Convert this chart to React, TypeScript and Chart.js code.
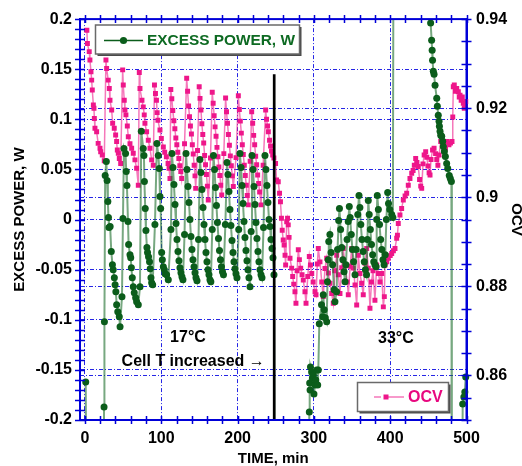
import React, { useEffect, useRef } from 'react';
import { Chart, registerables } from 'chart.js';

Chart.register(...registerables);

// ---------------- DATA ----------------
// EXCESS POWER, W  : [time (min), power (W)]  (values beyond the axis range run off the chart)
const excessPowerPoints: [number, number][] = [
  [1, -0.162], [2.5, -0.4], [24, -0.4], [25, -0.187], [25.5, -0.102], [26.5, 0.044], [28, 0.058], [29, 0.039], [30, 0.018], [30.8, 0.002], [31.5, -0.008], [33, -0.007], [34.5, -0.032], [36, -0.045], [37, -0.05], [38.5, -0.058], [39.5, -0.065], [40.5, -0.072], [41.5, -0.085], [43, -0.092], [45, -0.097], [46, -0.107],
  [48.5, -0.077], [49.8, 0.001], [51.1, 0.071], [53.2, 0.066], [54.1, 0.048], [55, 0.034], [56.4, -0.002], [57.2, -0.025], [59, -0.035], [60, -0.038], [60.8, -0.048], [62, -0.058], [63.3, -0.067], [64.6, -0.073], [66.4, -0.078], [67.7, -0.082], [69.9, -0.085],
  [72.1, -0.067], [73.8, 0.088], [76.4, 0.071], [77.3, 0.064], [77.9, 0.038], [79, 0.011], [79.9, -0.011], [81.2, -0.028], [82, -0.033], [83.3, -0.037], [84.6, -0.042], [85.5, -0.049], [86.5, -0.058], [87.4, -0.063], [88.7, -0.065],
  [91.7, -0.005], [94.3, 0.076], [96.1, 0.064], [97.4, 0.051], [98.3, 0.023], [99.2, 0.011], [100.5, -0.033], [101.4, -0.04], [102.7, -0.047], [104, -0.05], [105, -0.054], [107, -0.055], [109.2, -0.06],
  [112.7, -0.01], [114, 0.066], [115.3, 0.052], [116.6, 0.035], [118, 0.015], [119.3, -0.004], [120.6, -0.02], [121.9, -0.032], [123.2, -0.041], [124.5, -0.048], [125.8, -0.053], [127.1, -0.057], [128.4, -0.06],
  [130.5, -0.015], [132.4, 0.066], [133.7, 0.05], [135, 0.033], [136.3, 0.017], [137.6, 0], [138.9, -0.017], [140.2, -0.03], [141.5, -0.04], [142.9, -0.047], [144.2, -0.053], [145.5, -0.058], [146.8, -0.061],
  [148.8, -0.02], [150.7, 0.06], [152, 0.047], [153.3, 0.03], [154.7, 0.012], [156, -0.005], [157.3, -0.02], [158.6, -0.033], [159.9, -0.042], [161.2, -0.05], [162.5, -0.055], [163.8, -0.06], [165, -0.062],
  [166.8, -0.01], [168.4, 0.064], [169.8, 0.05], [171, 0.032], [172.3, 0.014], [173.6, -0.003], [175, -0.019], [176.3, -0.031], [177.6, -0.04], [178.9, -0.047], [180.2, -0.052], [181.5, -0.055],
  [184, -0.005], [186.1, 0.057], [187.4, 0.045], [188.7, 0.028], [190, 0.01], [191.3, -0.006], [192.7, -0.021], [194, -0.033], [195.3, -0.042], [196.6, -0.049], [197.9, -0.054], [199.2, -0.058],
  [201.5, -0.01], [203.1, 0.066], [204.5, 0.052], [205.8, 0.034], [207.1, 0.016], [208.4, -0.002], [209.7, -0.018], [211, -0.031], [212.3, -0.041], [213.6, -0.05], [214.9, -0.058], [216.3, -0.067],
  [217.8, -0.012], [218.9, 0.064], [220.2, 0.05], [221.5, 0.033], [222.8, 0.015], [224.1, -0.003], [225.4, -0.019], [226.7, -0.032], [228, -0.042], [229.4, -0.05], [230.7, -0.055], [232, -0.058],
  [234, -0.008], [235.9, 0.064], [237.2, 0.05], [238.5, 0.034], [239.8, 0.017], [241.2, 0], [242.5, -0.007], [243.8, -0.02], [245.1, -0.029], [246.4, -0.038], [247.7, -0.055],
  [249, -0.4], [292.5, -0.4], [294, -0.192], [294.5, -0.163], [295, -0.17], [295.5, -0.147], [297, -0.152], [298, -0.158], [299.2, -0.155], [300.1, -0.174], [301.4, -0.165], [302.5, -0.16], [303.7, -0.15], [305, -0.165], [305.8, -0.15], [307.1, -0.104],
  [310, -0.085], [311.5, -0.097], [312.3, -0.075], [313.5, -0.09], [315, -0.098], [316.8, -0.102], [317.8, -0.062], [318.8, -0.04], [319.5, -0.022], [321, -0.015], [322.5, -0.033], [324.5, -0.045], [326.5, -0.07], [327.6, -0.082], [329.8, -0.072], [331, -0.03], [332.5, -0.001], [333.5, 0.011],
  [335, -0.01], [336.5, -0.028], [338, -0.04], [339.5, -0.052], [340.8, -0.062], [342, -0.045], [343.5, -0.02], [345, -0.002], [346.4, 0.013], [347.5, 0.002], [349, -0.015], [350.5, -0.03], [352, -0.042], [353.9, -0.055], [355.5, -0.03], [357.5, 0.005], [359.1, 0.024],
  [360.3, 0.012], [361.5, -0.005], [363, -0.02], [364.5, -0.032], [366, -0.042], [367.5, -0.05], [369, -0.055], [370.2, -0.02], [371.3, 0.019], [372.5, 0.005], [374, -0.01], [375.5, -0.025], [377, -0.035], [378.5, -0.042], [380, -0.045], [381.5, -0.047], [382.3, 0], [383.1, 0.024],
  [384.5, 0.01], [386, -0.005], [387.5, -0.02], [389, -0.03], [390.5, -0.04], [392, -0.045], [393.5, -0.035], [395, 0], [396.7, 0.027], [397.8, 0.016], [399.5, 0.01], [402, 0.005], [403.5, 0.002], [404.5, 0.35],
  [452.5, 0.35], [453, 0.196], [454.3, 0.179], [455, 0.169], [455.5, 0.159], [456.5, 0.148], [457.5, 0.145], [458.8, 0.134], [461, 0.121], [461.8, 0.113], [463, 0.104], [464, 0.098], [464.5, 0.093], [465.3, 0.088], [466.2, 0.084], [467.5, 0.083], [468.8, 0.078], [469.6, 0.073], [471, 0.068], [472.3, 0.063], [474, 0.056], [475.4, 0.051], [477.4, 0.044], [478.8, 0.041], [480.2, 0.038],
  [480.8, -0.4], [494, -0.4], [495, -0.184], [496.5, -0.177], [497.8, -0.172], [499, -0.157],
];

// OCV : [time (min), volts]
const ocvPoints: [number, number][] = [
  [2.5, 0.9375], [3.2, 0.9345], [5.6, 0.9327], [6.5, 0.9308], [7.9, 0.9282], [8.8, 0.9263], [9.6, 0.9241], [11, 0.9207], [11.8, 0.92], [12.3, 0.9177], [13.1, 0.9155], [15.3, 0.9147], [17.3, 0.9121], [19.7, 0.911], [20.6, 0.9102], [22.7, 0.9095], [25.3, 0.9082],
  [27.5, 0.9308], [28.4, 0.9289], [30.5, 0.9263], [31.9, 0.9244], [32.8, 0.9218], [35, 0.9196], [36.3, 0.9166], [38.4, 0.9155], [40.2, 0.914], [41.5, 0.9125], [42.4, 0.9106], [43.7, 0.9099], [45, 0.9087], [46.8, 0.9076],
  [49.4, 0.9286], [50.2, 0.9252], [51.5, 0.9218], [52.4, 0.9196], [53.7, 0.9185], [55.5, 0.916], [56.8, 0.9136], [59, 0.912], [61.2, 0.911], [63.3, 0.9099], [65.5, 0.9084], [67.7, 0.9065], [69.9, 0.9027],
  [71.2, 0.928], [72.1, 0.9244], [74.7, 0.9218], [76.4, 0.9203], [77.7, 0.9185], [78.6, 0.9166], [80.8, 0.9147], [83, 0.9128], [85.2, 0.911], [87.4, 0.9084], [89.5, 0.9072],
  [91.1, 0.9252], [92.4, 0.9233], [93.7, 0.9218], [94.6, 0.919], [95.6, 0.9173], [98.3, 0.9151], [100.1, 0.9132], [102.7, 0.9113], [104.5, 0.9101], [106.7, 0.9091], [108.9, 0.9076], [110.2, 0.9065], [111.4, 0.9042],
  [112.5, 0.9242], [113.8, 0.9221], [115.1, 0.9195], [116.5, 0.9172], [117.8, 0.9154], [119.1, 0.9133], [120.4, 0.9118], [121.7, 0.9101], [123, 0.9087], [124.3, 0.9071], [125.6, 0.9058], [126.7, 0.9042],
  [130.5, 0.912], [133.3, 0.9267], [134.5, 0.9238], [135.8, 0.9205], [137, 0.9181], [138.2, 0.916], [139.5, 0.9142], [140.7, 0.9118], [141.9, 0.9097], [143.1, 0.9072], [144.2, 0.9048], [145.1, 0.902],
  [147.5, 0.9105], [149.7, 0.9248], [150.8, 0.9222], [152, 0.9196], [153.2, 0.9165], [154.4, 0.9141], [155.6, 0.9122], [156.8, 0.9094], [158, 0.9073], [159.2, 0.9051], [160.4, 0.9025], [161.6, 0.8994],
  [164.5, 0.9088], [166.8, 0.9236], [168, 0.9211], [169.3, 0.9183], [170.5, 0.9158], [171.8, 0.9137], [173, 0.9112], [174.3, 0.9091], [175.5, 0.9068], [176.8, 0.9049], [178, 0.9027], [179.2, 0.9005],
  [182, 0.9098], [184.3, 0.9223], [185.5, 0.9192], [186.8, 0.9166], [188, 0.9141], [189.3, 0.9117], [190.5, 0.9093], [191.8, 0.9071], [193.1, 0.9048], [194.4, 0.9024],
  [198, 0.9089], [201, 0.9228], [202.3, 0.9197], [203.6, 0.9171], [204.9, 0.9144], [206.2, 0.9118], [207.5, 0.9096], [208.8, 0.9072], [210.1, 0.9049], [211.4, 0.9027], [212.7, 0.9004], [214, 0.8983],
  [216.5, 0.9081], [218.5, 0.9192], [219.8, 0.9166], [221.1, 0.9139], [222.4, 0.9118], [223.7, 0.9092], [225, 0.9073], [226.3, 0.905], [227.6, 0.9031], [228.9, 0.9012], [230.7, 0.8983],
  [233.5, 0.9072], [236.8, 0.9196], [238, 0.9175], [239.3, 0.916], [240.3, 0.9147], [241.9, 0.9128], [243.2, 0.9115], [244.5, 0.9104], [246, 0.9095], [247.6, 0.9088], [249.8, 0.9076], [251.1, 0.9039], [253.3, 0.9035], [255, 0.9009], [256.2, 0.899], [257.5, 0.8953],
  [258.5, 0.8926], [259.8, 0.8904], [261, 0.8893], [262.2, 0.887], [263, 0.8848], [264.4, 0.8945], [265.5, 0.8953], [266.4, 0.8938], [267.5, 0.891], [268.7, 0.8863], [270.9, 0.8841], [272.2, 0.8822], [273.6, 0.8805], [275.2, 0.8788], [276.5, 0.8762],
  [278, 0.8835], [279.6, 0.8882], [281, 0.886], [282.7, 0.8841], [284.5, 0.8826], [286.1, 0.8814], [288.3, 0.8788], [289.7, 0.8762], [292, 0.8822], [294, 0.8867], [295.5, 0.8848], [297.2, 0.8829], [299, 0.881], [301.5, 0.8788], [302.8, 0.8781],
  [304.5, 0.885], [305.8, 0.8885], [308, 0.8855], [310.3, 0.881], [312.3, 0.8777], [314.5, 0.884], [316.8, 0.8863], [319, 0.883], [321.1, 0.8807], [323.3, 0.8784], [325.4, 0.8762], [327.5, 0.8835], [329.9, 0.887], [332, 0.8826], [334.2, 0.8784],
  [336.5, 0.8842], [338.5, 0.8885], [340.8, 0.8848], [343.8, 0.881], [345.1, 0.8781], [347.5, 0.8845], [349.5, 0.8885], [351.6, 0.8841], [353.9, 0.8803], [356.1, 0.8758], [358.2, 0.887], [360.4, 0.8829], [362.6, 0.8807], [364.7, 0.8781],
  [367, 0.8852], [369.2, 0.8885], [371.3, 0.8841], [373.5, 0.8751], [375.5, 0.881], [377.5, 0.8835], [380, 0.8769], [382.3, 0.8848], [384.5, 0.8829], [386.6, 0.881], [388.9, 0.8829], [391, 0.8754], [392.3, 0.8777], [393.2, 0.8848],
  [395.5, 0.8855], [397.5, 0.8863], [400, 0.8869], [402, 0.8874], [404.2, 0.888], [406.3, 0.8885], [408.5, 0.8908], [409.5, 0.8915], [410.6, 0.8941], [412.8, 0.896],
  [415, 0.8975], [417.2, 0.8994], [419.5, 0.9003], [421.6, 0.9009], [423.7, 0.9027], [425.9, 0.9042], [428.2, 0.9054], [430, 0.906], [431.6, 0.9072], [433.4, 0.9087], [435, 0.9078], [436.8, 0.9069], [438.5, 0.904], [440, 0.9025], [441.3, 0.902],
  [443, 0.9075], [444.5, 0.9095], [446.5, 0.9102], [448, 0.909], [449.5, 0.907], [451, 0.9055], [452.2, 0.905], [453.5, 0.9085], [455.5, 0.9106], [457.5, 0.911], [459.5, 0.9098], [461, 0.9085], [462.5, 0.9072], [464, 0.9095], [466.2, 0.9125],
  [468.5, 0.9118], [470.5, 0.9121], [472.5, 0.911], [474.6, 0.9125], [477, 0.9118], [479, 0.9122], [481, 0.9125], [482, 0.918], [482.7, 0.9248], [484, 0.9252], [485.5, 0.9238], [487.2, 0.9244], [489.3, 0.9237], [490.5, 0.9225], [491.5, 0.9229],
  [493, 0.9218], [494.5, 0.9225], [495.8, 0.9211], [497.1, 0.92], [498, 0.9207], [499, 0.9215],
];

// vertical marker: cell temperature increased
const cellTIncreaseTime = 248;
const cellTLineTop = 0.145;
const cellTLineBottom = -0.2;

// tick labels
const timeTicks = [0, 100, 200, 300, 400, 500];
const powerTicks = [-0.2, -0.15, -0.1, -0.05, 0, 0.05, 0.1, 0.15, 0.2];
const ocvTicks = [0.86, 0.88, 0.9, 0.92, 0.94];

// annotations [text, time, power, align]
const notes: [string, number, number, string][] = [
  ['17°C', 135, -0.118, 'center'],
  ['Cell T increased →', 48, -0.142, 'left'],
  ['33°C', 407.5, -0.119, 'center'],
];

// ---------------- STYLE ----------------
const FONT = "'Liberation Sans', Arial, Helvetica, sans-serif";
const AXIS = '#0000d8';
const GRID = 'rgba(0,0,225,0.85)';
const GREEN = '#0b5d1b';
const GREEN_LINE = 'rgba(35,115,50,0.62)';
const GREEN_TEXT = '#0d6a22';
const PINK = '#ee168a';
const PINK_LINE = 'rgba(238,30,140,0.6)';
const PINK_TEXT = '#e8087f';

const decorPlugin = {
  id: 'decor',
  afterDraw(chart: any) {
    const { ctx, chartArea: a, scales } = chart;
    const xs = scales.x, ys = scales.y, y1 = scales.y1;
    ctx.save();
    // frame
    ctx.strokeStyle = AXIS;
    ctx.lineWidth = 2;
    ctx.strokeRect(a.left, a.top, a.right - a.left, a.bottom - a.top);
    // tick marks crossing the frame
    ctx.lineWidth = 1.5;
    ctx.beginPath();
    for (let v = 0; v <= 500; v += 20) {
      const px = Math.round(xs.getPixelForValue(v)) + 0.5;
      ctx.moveTo(px, a.bottom - 4); ctx.lineTo(px, a.bottom + 4);
      ctx.moveTo(px, a.top - 4); ctx.lineTo(px, a.top + 4);
    }
    for (let i = -20; i <= 20; i++) {
      const py = Math.round(ys.getPixelForValue(i / 100)) + 0.5;
      ctx.moveTo(a.left - 5, py); ctx.lineTo(a.left + 5, py);
    }
    for (let i = 170; i <= 188; i++) {
      const py = Math.round(y1.getPixelForValue(i / 200)) + 0.5;
      ctx.moveTo(a.right - 5, py); ctx.lineTo(a.right + 5, py);
    }
    ctx.stroke();

    // annotations
    ctx.fillStyle = '#000';
    ctx.font = `bold 16px ${FONT}`;
    ctx.textBaseline = 'middle';
    for (const [t, x, y, al] of notes) {
      ctx.textAlign = al as CanvasTextAlign;
      ctx.fillText(t, xs.getPixelForValue(x), ys.getPixelForValue(y));
    }

    // legend boxes
    const box = (x: number, y: number, w: number, h: number) => {
      ctx.fillStyle = '#4a4a4a';
      ctx.fillRect(x + 2, y + 2, w, h);
      ctx.fillStyle = '#fff';
      ctx.fillRect(x, y, w, h);
      ctx.strokeStyle = '#6a6a6a';
      ctx.lineWidth = 1.5;
      ctx.strokeRect(x, y, w, h);
    };
    // EXCESS POWER legend
    box(95.5, 25, 204, 29);
    ctx.strokeStyle = GREEN;
    ctx.lineWidth = 1.5;
    ctx.beginPath(); ctx.moveTo(104, 40.5); ctx.lineTo(143, 40.5); ctx.stroke();
    ctx.fillStyle = GREEN;
    ctx.beginPath(); ctx.arc(123.5, 40.5, 3.6, 0, Math.PI * 2); ctx.fill();
    ctx.fillStyle = GREEN_TEXT;
    ctx.textAlign = 'left';
    ctx.font = `bold 15.4px ${FONT}`;
    ctx.fillText('EXCESS POWER, W', 147, 41);
    // OCV legend
    box(357.5, 382.5, 91, 29);
    ctx.strokeStyle = PINK_LINE;
    ctx.lineWidth = 1.5;
    ctx.beginPath();
    ctx.moveTo(374, 397); ctx.lineTo(381, 397);
    ctx.moveTo(388, 397); ctx.lineTo(404, 397);
    ctx.stroke();
    ctx.fillStyle = PINK;
    ctx.fillRect(383.5, 394.5, 5, 5);
    ctx.fillStyle = PINK_TEXT;
    ctx.font = `bold 16px ${FONT}`;
    ctx.fillText('OCV', 408, 397.5);
    ctx.restore();
  },
};

const tickFont = { family: FONT, size: 16, weight: 'bold' as const };
const titleFont = { family: FONT, size: 15, weight: 'bold' as const, lineHeight: 1 };

export default function App() {
  const ref = useRef<HTMLCanvasElement>(null);
  useEffect(() => {
    if (!ref.current) return;
    const chart = new Chart(ref.current, {
      type: 'line',
      data: {
        datasets: [
          {
            label: 'Cell T increased',
            data: [
              { x: cellTIncreaseTime, y: cellTLineTop },
              { x: cellTIncreaseTime, y: cellTLineBottom },
            ],
            yAxisID: 'y',
            borderColor: '#000',
            borderWidth: 2.7,
            pointRadius: 0,
            clip: 0,
          } as any,
          {
            label: 'EXCESS POWER, W',
            data: excessPowerPoints.map(([x, y]) => ({ x, y })),
            yAxisID: 'y',
            borderColor: GREEN_LINE,
            borderWidth: 2,
            pointRadius: 3.5,
            pointStyle: 'circle',
            pointBackgroundColor: GREEN,
            pointBorderWidth: 0,
            tension: 0,
            clip: { left: 0, top: 0, right: 6, bottom: 0 },
          } as any,
          {
            label: 'OCV',
            data: ocvPoints.map(([x, y]) => ({ x, y })),
            yAxisID: 'y1',
            borderColor: PINK_LINE,
            borderWidth: 1.5,
            pointRadius: 3.5,
            pointStyle: 'rect',
            pointBackgroundColor: PINK,
            pointBorderWidth: 0,
            tension: 0,
            clip: { left: 0, top: 0, right: 6, bottom: 0 },
          } as any,
        ],
      },
      options: {
        responsive: false,
        animation: false,
        events: [],
        layout: { padding: { top: 19, left: 0, right: 0, bottom: 0 } },
        plugins: { legend: { display: false }, tooltip: { enabled: false } },
        scales: {
          x: {
            type: 'linear',
            position: 'bottom',
            min: -6.5,
            max: 500,
            afterBuildTicks: (s: any) => { s.ticks = timeTicks.map((v) => ({ value: v })); },
            afterFit: (s: any) => { s.height = 46; },
            grid: {
              color: (c: any) => (c.tick && c.tick.value === 500 ? 'rgba(0,0,0,0)' : GRID),
              lineWidth: 1,
              drawTicks: false,
            },
            border: { display: true, color: AXIS, width: 2, dash: [4, 2, 1, 2] },
            ticks: { padding: 9, color: '#000', font: tickFont, maxRotation: 0, autoSkip: false, callback: (v: any) => String(v) },
            title: { display: true, text: 'TIME, min', color: '#000', font: titleFont, padding: { top: 0, bottom: -0.5 } },
          },
          y: {
            type: 'linear',
            position: 'left',
            min: -0.2,
            max: 0.2,
            afterBuildTicks: (s: any) => { s.ticks = powerTicks.map((v) => ({ value: v })); },
            afterFit: (s: any) => { s.width = 80; },
            grid: {
              color: (c: any) => (c.tick && Math.abs(Math.abs(c.tick.value) - 0.2) < 1e-9 ? 'rgba(0,0,0,0)' : GRID),
              lineWidth: 1,
              drawTicks: false,
            },
            border: { display: true, color: AXIS, width: 2, dash: [4, 2, 1, 2] },
            ticks: { padding: 8, color: '#000', font: tickFont, autoSkip: false, callback: (v: any) => String(Number(Number(v).toFixed(2))) },
            title: { display: true, text: 'EXCESS POWER, W', color: '#000', font: titleFont, padding: { top: 12.5, bottom: 0 } },
          },
          y1: {
            type: 'linear',
            position: 'right',
            min: 0.85,
            max: 0.94,
            afterBuildTicks: (s: any) => { s.ticks = ocvTicks.map((v) => ({ value: v })); },
            afterFit: (s: any) => { s.width = 55.5; },
            grid: {
              color: (c: any) => (c.tick && Math.abs(c.tick.value - 0.94) < 1e-9 ? 'rgba(0,0,0,0)' : GRID),
              lineWidth: 1,
              drawTicks: false,
            },
            border: { display: true, color: AXIS, width: 2, dash: [4, 2, 1, 2] },
            ticks: { padding: 9.5, color: '#000', font: tickFont, autoSkip: false, callback: (v: any) => String(Number(Number(v).toFixed(2))) },
            title: { display: true, text: 'OCV', color: '#000', font: titleFont, padding: { top: -1.5, bottom: 0 } },
          },
        },
      } as any,
      plugins: [decorPlugin],
    });
    return () => chart.destroy();
  }, []);

  return (
    <div style={{ position: 'absolute', left: 0, top: 0, width: 522, height: 466, background: '#fff' }}>
      <canvas ref={ref} width={522} height={466} style={{ display: 'block', width: 522, height: 466 }} />
    </div>
  );
}
